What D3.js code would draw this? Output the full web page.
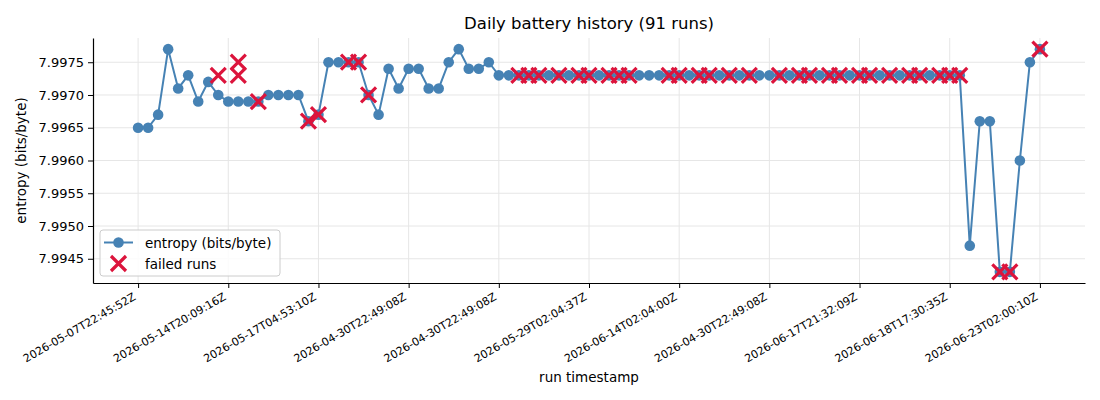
<!DOCTYPE html>
<html>
<head>
<meta charset="utf-8">
<script src="https://cdn.jsdelivr.net/npm/d3@7/dist/d3.min.js"></script>
<style>
  body { margin: 0; background: #fff; }
  text { font-family: "DejaVu Sans", sans-serif; fill: #000; }
</style>
</head>
<body>
<div id="chart"></div>
<script>
// Tick labels shown under every 9th run
var tickRuns = [0, 9, 18, 27, 36, 45, 54, 63, 72, 81, 90];
var tickLabels = [
  "2026-05-07T22:45:52Z", "2026-05-14T20:09:16Z", "2026-05-17T04:53:10Z",
  "2026-04-30T22:49:08Z", "2026-04-30T22:49:08Z", "2026-05-29T02:04:37Z",
  "2026-06-14T02:04:00Z", "2026-04-30T22:49:08Z", "2026-06-17T21:32:09Z",
  "2026-06-18T17:30:35Z", "2026-06-23T02:00:10Z"
];

// Entropy per run (bits/byte), 91 runs
var entropy = [
  7.9965, 7.9965, 7.9967, 7.9977, 7.9971, 7.9973, 7.9969, 7.9972, 7.9970, 7.9969,
  7.9969, 7.9969, 7.9969, 7.9970, 7.9970, 7.9970, 7.9970, 7.9966, 7.9967, 7.9975,
  7.9975, 7.9975, 7.9975, 7.9970, 7.9967, 7.9974, 7.9971, 7.9974, 7.9974, 7.9971,
  7.9971, 7.9975, 7.9977, 7.9974, 7.9974, 7.9975, 7.9973, 7.9973, 7.9973, 7.9973,
  7.9973, 7.9973, 7.9973, 7.9973, 7.9973, 7.9973, 7.9973, 7.9973, 7.9973, 7.9973,
  7.9973, 7.9973, 7.9973, 7.9973, 7.9973, 7.9973, 7.9973, 7.9973, 7.9973, 7.9973,
  7.9973, 7.9973, 7.9973, 7.9973, 7.9973, 7.9973, 7.9973, 7.9973, 7.9973, 7.9973,
  7.9973, 7.9973, 7.9973, 7.9973, 7.9973, 7.9973, 7.9973, 7.9973, 7.9973, 7.9973,
  7.9973, 7.9973, 7.9973, 7.9947, 7.9966, 7.9966, 7.9943, 7.9943, 7.9960, 7.9975,
  7.9977
];

// Failed runs: run index and the value they were plotted at
var failedRuns = [
  8, 10, 10, 12, 17, 18, 21, 22, 23,
  38, 39, 40, 42, 44, 45, 47, 48, 49, 53, 54, 56, 57, 59, 61, 64, 66, 67,
  69, 70, 72, 73, 75, 77, 78, 80, 81, 82,
  86, 87, 90
];
var failedValues = [
  7.9973, 7.9975, 7.9973, 7.9969, 7.9966, 7.9967, 7.9975, 7.9975, 7.9970,
  7.9973, 7.9973, 7.9973, 7.9973, 7.9973, 7.9973, 7.9973, 7.9973, 7.9973,
  7.9973, 7.9973, 7.9973, 7.9973, 7.9973, 7.9973, 7.9973, 7.9973, 7.9973,
  7.9973, 7.9973, 7.9973, 7.9973, 7.9973, 7.9973, 7.9973, 7.9973, 7.9973,
  7.9973, 7.9943, 7.9943, 7.9977
];

var yTicks = [7.9945, 7.9950, 7.9955, 7.9960, 7.9965, 7.9970, 7.9975];

var lineColor = "#4682b4";
var failColor = "#dc143c";
var gridColor = "#e6e6e6";

var width = 1100;
var height = 400;
var margins = { top: 38, right: 15, bottom: 117, left: 93 };
var chartWidth = width - margins.left - margins.right;
var chartHeight = height - margins.top - margins.bottom;

var svg = d3.select("#chart")
  .append("svg")
  .attr("width", width)
  .attr("height", height);

var chartElement = svg.append("g")
  .attr("transform", `translate(${margins.left},${margins.top})`);

// Scales with matplotlib-like 5% padding
var xPad = (entropy.length - 1) * 0.05;
var xScale = d3.scaleLinear()
  .domain([-xPad, entropy.length - 1 + xPad])
  .range([0, chartWidth]);

var yMin = d3.min(entropy.concat(failedValues));
var yMax = d3.max(entropy.concat(failedValues));
var yPad = (yMax - yMin) * 0.05;
var yScale = d3.scaleLinear()
  .domain([yMin - yPad, yMax + yPad])
  .range([chartHeight, 0]);

// Grid
chartElement.append("g")
  .attr("class", "x grid")
  .selectAll("line")
  .data(tickRuns)
  .enter()
  .append("line")
  .attr("x1", (d) => xScale(d))
  .attr("x2", (d) => xScale(d))
  .attr("y1", 0)
  .attr("y2", chartHeight)
  .attr("stroke", gridColor)
  .attr("stroke-width", 1);

chartElement.append("g")
  .attr("class", "y grid")
  .selectAll("line")
  .data(yTicks)
  .enter()
  .append("line")
  .attr("x1", 0)
  .attr("x2", chartWidth)
  .attr("y1", (d) => yScale(d))
  .attr("y2", (d) => yScale(d))
  .attr("stroke", gridColor)
  .attr("stroke-width", 1);

// Axes
var xAxis = d3.axisBottom(xScale)
  .tickValues(tickRuns)
  .tickSize(5)
  .tickPadding(4)
  .tickFormat((d, i) => tickLabels[i]);

var xAxisG = chartElement.append("g")
  .attr("class", "x axis")
  .attr("transform", `translate(0,${chartHeight})`)
  .call(xAxis);

xAxisG.select(".domain").attr("stroke", "#000").attr("stroke-width", 1.2)
  .attr("d", `M0.5,0.5H${chartWidth + 0.5}`);
xAxisG.selectAll(".tick line").attr("stroke", "#000").attr("stroke-width", 1);
xAxisG.selectAll(".tick text")
  .attr("font-size", "11px")
  .attr("font-family", "DejaVu Sans")
  .attr("text-anchor", "end")
  .attr("y", 0)
  .attr("dy", 0)
  .attr("transform", "translate(-2,16) rotate(-30)");

var yAxis = d3.axisLeft(yScale)
  .tickValues(yTicks)
  .tickSize(5)
  .tickPadding(4)
  .tickFormat(d3.format(".4f"));

var yAxisG = chartElement.append("g")
  .attr("class", "y axis")
  .call(yAxis);

yAxisG.select(".domain").attr("stroke", "#000").attr("stroke-width", 1.2)
  .attr("d", `M0.5,0.5V${chartHeight + 0.5}`);
yAxisG.selectAll(".tick line").attr("stroke", "#000").attr("stroke-width", 1);
yAxisG.selectAll(".tick text")
  .attr("font-size", "13px")
  .attr("font-family", "DejaVu Sans");

// Entropy line + markers
var line = d3.line()
  .x((d, i) => xScale(i))
  .y((d) => yScale(d));

chartElement.append("path")
  .datum(entropy)
  .attr("fill", "none")
  .attr("stroke", lineColor)
  .attr("stroke-width", 2)
  .attr("d", line);

chartElement.append("g")
  .attr("class", "dots")
  .selectAll("circle")
  .data(entropy)
  .enter()
  .append("circle")
  .attr("cx", (d, i) => xScale(i))
  .attr("cy", (d) => yScale(d))
  .attr("r", 5.3)
  .attr("fill", lineColor);

// Failed run crosses
var crossSize = 7.5;
var crossPath = `M${-crossSize},${-crossSize}L${crossSize},${crossSize}M${-crossSize},${crossSize}L${crossSize},${-crossSize}`;

chartElement.append("g")
  .attr("class", "failed")
  .selectAll("path")
  .data(failedRuns)
  .enter()
  .append("path")
  .attr("d", crossPath)
  .attr("transform", (d, i) => `translate(${xScale(d)},${yScale(failedValues[i])})`)
  .attr("stroke", failColor)
  .attr("stroke-width", 3.2)
  .attr("fill", "none");

// Title and axis labels
svg.append("text")
  .attr("x", margins.left + chartWidth / 2)
  .attr("y", 29)
  .attr("text-anchor", "middle")
  .attr("font-size", "16.5px")
  .text("Daily battery history (91 runs)");

svg.append("text")
  .attr("x", margins.left + chartWidth / 2)
  .attr("y", 382)
  .attr("text-anchor", "middle")
  .attr("font-size", "13.5px")
  .text("run timestamp");

svg.append("text")
  .attr("transform", `translate(26,${margins.top + chartHeight / 2}) rotate(-90)`)
  .attr("text-anchor", "middle")
  .attr("font-size", "13.5px")
  .text("entropy (bits/byte)");

// Legend
var legend = chartElement.append("g")
  .attr("class", "legend")
  .attr("transform", `translate(7,${chartHeight - 53})`);

legend.append("rect")
  .attr("width", 180)
  .attr("height", 46)
  .attr("rx", 3)
  .attr("fill", "rgba(255,255,255,0.85)")
  .attr("stroke", "#cccccc")
  .attr("stroke-width", 1);

legend.append("line")
  .attr("x1", 4).attr("x2", 33)
  .attr("y1", 12.5).attr("y2", 12.5)
  .attr("stroke", lineColor)
  .attr("stroke-width", 2);

legend.append("circle")
  .attr("cx", 18.5).attr("cy", 12.5).attr("r", 5.3)
  .attr("fill", lineColor);

legend.append("path")
  .attr("d", crossPath)
  .attr("transform", "translate(18.5,33.5)")
  .attr("stroke", failColor)
  .attr("stroke-width", 3.2)
  .attr("fill", "none");

legend.append("text")
  .attr("x", 45).attr("y", 17.5)
  .attr("font-size", "13.5px")
  .text("entropy (bits/byte)");

legend.append("text")
  .attr("x", 45).attr("y", 38.5)
  .attr("font-size", "13.5px")
  .text("failed runs");
</script>
</body>
</html>
